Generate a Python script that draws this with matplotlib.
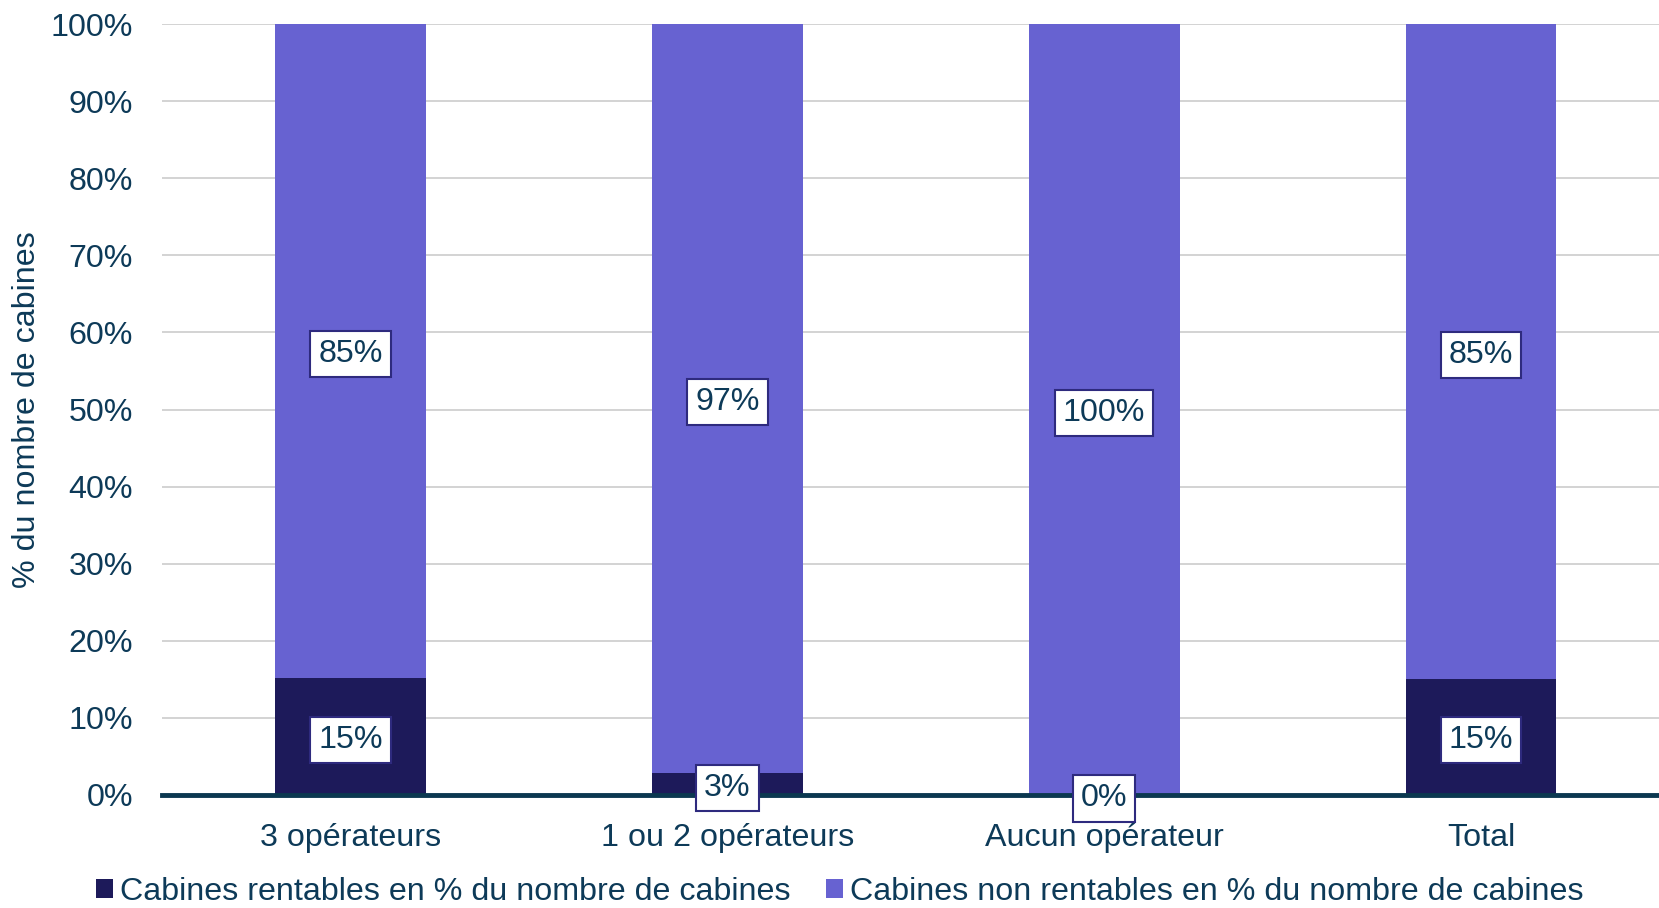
import matplotlib
matplotlib.use("Agg")
import matplotlib.pyplot as plt
from matplotlib.patches import Patch

categories = ["3 opérateurs", "1 ou 2 opérateurs", "Aucun opérateur", "Total"]
rentables = [15.2, 2.8, 0.0, 15.1]
non_rentables = [84.8, 97.2, 100.0, 84.9]
series_names = ["Cabines rentables en % du nombre de cabines",
                "Cabines non rentables en % du nombre de cabines"]
yticks = [0, 10, 20, 30, 40, 50, 60, 70, 80, 90, 100]

C_DARK = "#1d1a5a"
C_LIGHT = "#6762d1"
C_TEXT = "#0d3a58"
C_AXIS = "#0b3850"
C_GRID = "#d0d0d0"

plt.rcParams["font.family"] = ["Liberation Sans", "DejaVu Sans"]
FS = 23.2

fig = plt.figure(figsize=(16.59, 9.08), dpi=100)
ax = fig.add_axes([162/1659, (908-795)/908, (1659-162)/1659, (795-24)/908])

x = list(range(len(categories)))
w = 0.40
ax.bar(x, rentables, width=w, color=C_DARK, zorder=2)
ax.bar(x, non_rentables, width=w, bottom=rentables, color=C_LIGHT, zorder=2)

box = dict(boxstyle="square,pad=0.25", facecolor="white", edgecolor="#2e2a7e", linewidth=1.5)
for i in x:
    ax.text(i, rentables[i] / 2, f"{round(rentables[i])}%", ha="center", va="center_baseline",
            fontsize=FS, color=C_TEXT, bbox=box, zorder=5, clip_on=False)
    ax.text(i, rentables[i] + non_rentables[i] / 2, f"{round(non_rentables[i])}%",
            ha="center", va="center_baseline", fontsize=FS, color=C_TEXT, bbox=box, zorder=5)

ax.set_ylim(0, 100)
ax.set_xlim(-0.5, (1659 - 350) / 377)
ax.set_yticks(yticks)
ax.set_yticklabels([f"{t}%" for t in yticks])
ax.set_xticks(x)
ax.set_xticklabels(categories)
ax.tick_params(axis="both", length=0, labelsize=FS, colors=C_TEXT)
ax.tick_params(axis="y", pad=21)
ax.tick_params(axis="x", pad=20)
ax.yaxis.grid(True, color=C_GRID, linewidth=1.3, zorder=0)
ax.set_axisbelow(True)
for s in ["top", "right", "left"]:
    ax.spines[s].set_visible(False)
ax.spines["bottom"].set_color(C_AXIS)
ax.spines["bottom"].set_linewidth(3.5)
ax.spines["bottom"].set_zorder(3)

ax.set_ylabel("% du nombre de cabines", fontsize=FS, color=C_TEXT)
ax.yaxis.set_label_coords((42 - 162) / (1659 - 162), 0.5)

handles = [Patch(facecolor=C_DARK), Patch(facecolor=C_LIGHT)]
fig.legend(handles, series_names, loc="center", bbox_to_anchor=(0.506, 1 - 892/908),
           ncol=2, frameon=False, fontsize=FS, labelcolor=C_TEXT,
           handlelength=0.55, handleheight=0.55, handletextpad=0.2, columnspacing=1.1,
           borderpad=0.1)

fig.savefig("out.png", dpi=100)
